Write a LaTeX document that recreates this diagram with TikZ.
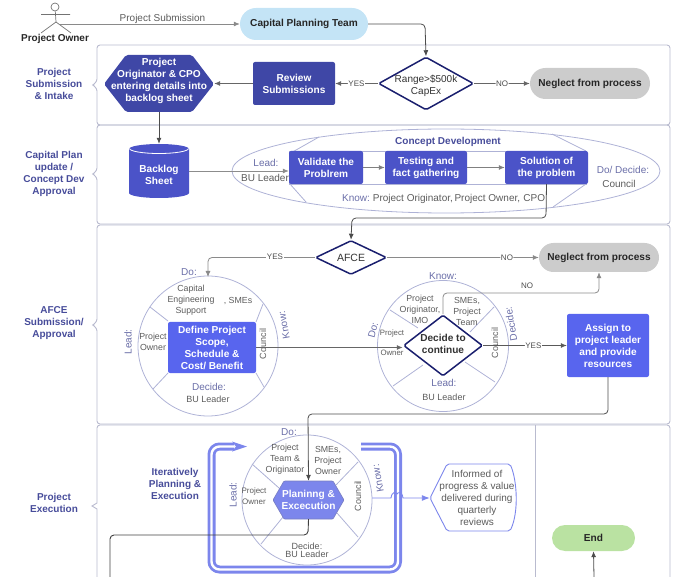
\documentclass[tikz,border=0pt]{standalone}
\usepackage{fontspec}
\setmainfont{Liberation Sans}
\usetikzlibrary{arrows.meta,shapes.geometric,shapes.misc}
\definecolor{lanegray}{HTML}{B9BBCF}
\definecolor{darkbox}{HTML}{3F47A6}
\definecolor{midbox}{HTML}{4B53C8}
\definecolor{lightbox}{HTML}{5865EE}
\definecolor{peri}{HTML}{7C86EC}
\definecolor{navy}{HTML}{1A1F6E}
\definecolor{heading}{HTML}{474C9A}
\definecolor{rolecol}{HTML}{6A6EA8}
\definecolor{textgray}{HTML}{5C5C5C}
\definecolor{linegray}{HTML}{8A8A8A}
\definecolor{wheelcol}{HTML}{AEB2D6}
\definecolor{teamblue}{HTML}{C4E4F6}
\definecolor{endgreen}{HTML}{BAE2A2}
\begin{document}
\begin{tikzpicture}[x=1pt,y=-1pt]

	\tikzset{lane/.style={draw=lanegray, line width=.9pt, rounded corners=3pt}}
	\tikzset{txt/.style={font=\fontsize{10}{12}\selectfont, align=center, text=textgray, inner sep=0pt}}
	\tikzset{small/.style={txt, font=\fontsize{8.8}{11}\selectfont}}
	\tikzset{tiny/.style={txt, font=\fontsize{8}{10.5}\selectfont}}
	\tikzset{who/.style={txt, font=\fontsize{9}{11}\selectfont}}
	\tikzset{role/.style={txt, text=rolecol}}
	\tikzset{lanelabel/.style={font=\fontsize{10}{12}\bfseries\selectfont, align=center, text=heading, inner sep=0pt}}
	\tikzset{bluebox/.style={draw=none, rounded corners=2pt, align=center, text=white, inner sep=0pt, font=\fontsize{10.1}{12}\bfseries\selectfont}}
	\tikzset{pill/.style={rounded rectangle, draw=none, align=center, text=black!85, inner sep=0pt, font=\fontsize{10.1}{12}\bfseries\selectfont}}
	\tikzset{decision/.style={diamond, draw=navy, line width=1.5pt, rounded corners=1.5pt, fill=white, inner sep=0pt}}
	\tikzset{wheel/.style={draw=wheelcol, line width=.8pt}}
	\tikzset{flow/.style={draw=black!70, line width=.8pt, rounded corners=4pt, -{Latex[length=6pt,width=5pt]}}}
	\tikzset{thin flow/.style={draw=linegray, line width=.8pt, rounded corners=4pt, -{Latex[length=6pt,width=5pt]}}}
	\tikzset{answer/.style={font=\fontsize{8}{10}\selectfont, fill=white, inner sep=.5pt, text=black!70}}
	\useasboundingbox (0,0) rectangle (680,577);
% Lanes
	\draw[lane] (97,45) -- (670,45) -- (670,125) -- (97,125) -- (97,88) -- (92,85) -- (97,82) -- cycle;
	\draw[lane] (97,125) -- (670,125) -- (670,224) -- (97,224) -- (97,177) -- (92,174) -- (97,171) -- cycle;
	\draw[lane] (97,225) -- (670,225) -- (670,424) -- (97,424) -- (97,328) -- (92,325) -- (97,322) -- cycle;
	\draw[lane, rounded corners=0pt] (97,580) -- (97,509) -- (92,506) -- (97,503) [rounded corners=3pt] -- (97,425) -- (670,425) [rounded corners=0pt] -- (670,580);
	\draw[lanegray, line width=.9pt] (535,425) -- (535,577);
	\node[lanelabel] (lane1) at (54,84) {Project\\Submission\\\& Intake};
	\node[lanelabel] (lane2) at (54,174) {Capital Plan\\update /\\Concept Dev\\Approval};
	\node[lanelabel] (lane3) at (54,323) {AFCE\\Submission/\\Approval};
	\node[lanelabel] (lane4) at (54,503) {Project\\Execution};
% Owner
	\node[draw=black!55, circle, inner sep=0pt, minimum size=8pt, line width=.7pt] (head) at (55,7) {};
	\coordinate (waist) at (56,22);
	\draw[black!55, line width=.7pt] (head) -- (waist) (41,14.5) -- (70,14.5) (41,33) -- (waist) -- (71,33);
	\node[txt, text=black!85, font=\fontsize{10}{12}\bfseries\selectfont] (owner) at (55,38.5) {Project Owner};
	\coordinate (ownerout) at (60,24);
	\node[pill, fill=teamblue, minimum width=128pt, minimum height=32pt] (team) at (304,24) {Capital Planning Team};
% Intake
	\node[decision, aspect=1.77, minimum width=95pt, minimum height=53pt] (range) at (426,83.5) {};
	\node[txt, text=black!80] (rangetxt) at (426,85.5) {Range>\$500k\\CapEx};
	\node[pill, fill=black!20, minimum width=120pt, minimum height=31pt] (neglect1) at (590,83.5) {Neglect from process};
	\node[bluebox, fill=darkbox, minimum width=82pt, minimum height=43pt] (review) at (294,83.5) {Review\\Submissions};
	\fill[darkbox, rounded corners=2pt] (104,84) -- (126,55) -- (192,55) -- (214,84) -- (192,112) -- (126,112) -- cycle;
	\node[bluebox, minimum width=110pt, minimum height=62pt] (entering) at (159,81) {Project\\Originator \& CPO\\entering details into\\backlog sheet};
% Concept development
	\draw[wheel] (446,171) ellipse [x radius=214, y radius=42];
	\draw[wheel] (319,137) -- (289,154) (290,184) -- (306,202) (552,134) -- (586,151) (586,184) -- (553,207);
	\draw[wheel] (289,151) rectangle (586,184);
	\fill[midbox] (129,149) -- (129,193) arc[start angle=180, end angle=0, x radius=30, y radius=5] -- (189,149) arc[start angle=0, end angle=-180, x radius=30, y radius=5] -- cycle;
	\draw[white, line width=.8pt] (129.5,148.5) arc[start angle=180, end angle=0, x radius=29.5, y radius=5];
	\node[bluebox, minimum width=60pt, minimum height=62pt] (backlog) at (159,175) {Backlog\\Sheet};
	\node[bluebox, fill=midbox, minimum width=74pt, minimum height=33pt] (validate) at (326,167.5) {Validate the\\Problrem};
	\node[bluebox, fill=midbox, minimum width=82pt, minimum height=33pt] (testing) at (426,167.5) {Testing and\\fact gathering};
	\node[bluebox, fill=midbox, minimum width=83pt, minimum height=33pt] (solution) at (546.5,167.5) {Solution of\\the problem};
	\node[lanelabel] (concept) at (448,142) {Concept Development};
	\node[role] (lead2) at (266,163) {Lead:};
	\node[txt, fill=white] (who2) at (265,178) {BU Leader};
	\node[role] (know2) at (356,198) {Know:};
	\node[txt] (knowwho) at (459,198.5) {Project Originator,\,Project Owner,\,\,CPO};
	\node[role] (dodecide) at (623,170) {Do/ Decide:};
	\node[txt] (council2) at (619,184) {Council};
% AFCE
	\node[decision, aspect=2.1, minimum width=71pt, minimum height=34pt, font=\fontsize{10.5}{12}\selectfont, text=black!80] (afce) at (351,257.5) {AFCE};
	\node[pill, fill=black!20, minimum width=120pt, minimum height=29pt] (neglect2) at (599,257.5) {Neglect from process};
% Define wheel
	\draw[wheel] (208,346) circle (70);
	\draw[wheel] (150,307) -- (168,321) (263,304) -- (256,322) (168,373) -- (153,389) (256,373) -- (264,387);
	\node[bluebox, fill=lightbox, minimum width=88pt, minimum height=51pt] (define) at (212,347.5) {Define Project\\Scope,\\Schedule \&\\Cost/ Benefit};
	\node[role] (do1) at (189,272.5) {Do:};
	\node[small] (capital) at (191,300.5) {Capital\\Engineering\\Support};
	\node[small] (smes1) at (238,300.5) {, SMEs};
	\node[role, rotate=90] (lead1) at (128,342) {Lead:};
	\node[small] (owner1) at (153,342) {Project\\Owner};
	\node[who, rotate=90] (council1) at (263,344) {Council};
	\node[role, rotate=100] (know1) at (284,325) {Know:};
	\node[role] (decide1) at (209,387) {Decide:};
	\node[who] (who1) at (208,399.5) {BU Leader};
% Continue wheel
	\draw[wheel] (443,346) circle (65.5);
	\draw[wheel] (390,310) -- (418,328) (494,307) -- (470,332) (495,382) -- (465,362) (393,386) -- (423,365);
	\node[decision, aspect=1.3, minimum width=79pt, minimum height=61pt] (continue) at (443,345.5) {};
	\node[txt, text=black!80, font=\fontsize{10.1}{12}\bfseries\selectfont] (continuetxt) at (443,343.5) {Decide to\\continue};
	\node[role] (know3) at (443,276) {Know:};
	\node[small] (origin) at (420,309) {Project\\Originator,\\IMO};
	\node[small] (smes3) at (467,311) {SMEs,\\Project\\Team};
	\node[role, rotate=75] (do3) at (373,330) {Do:};
	\node[txt, font=\fontsize{7.8}{10}\selectfont] (proj3) at (392,333.5) {Project};
	\node[txt, font=\fontsize{7.8}{10}\selectfont] (own3) at (392,352.5) {Owner};
	\node[who, rotate=90] (council3) at (495,343) {Council};
	\node[role, rotate=100] (decide3) at (511,324) {Decide:};
	\node[role] (lead3) at (444,383) {Lead:};
	\node[who] (who3) at (444,397) {BU Leader};
	\node[bluebox, fill=lightbox, minimum width=82pt, minimum height=63pt] (assign) at (608,345.5) {Assign to\\project leader\\and provide\\resources};
% Execution wheel
	\draw[wheel] (307,500) circle (65);
	\draw[wheel] (252,464) -- (279,488) (358,462) -- (336,485) (358,537) -- (337,513) (261,544) -- (283,517);
	\fill[peri] (273,500) -- (284,481) -- (333,481) -- (344,500) -- (333,519) -- (284,519) -- cycle;
	\draw[darkbox!70, line width=.6pt, rounded corners=1pt] (273,500) -- (284,481) -- (333,481) -- (344,500) -- (333,519) -- (284,519) -- cycle;
	\node[bluebox, minimum width=71pt, minimum height=38pt] (plan) at (308.5,500) {Planinng \&\\Excecution};
	\node[role] (do4) at (289,432.5) {Do:};
	\node[small] (team4) at (285,459.5) {Project\\Team \&\\Originator};
	\node[small] (smes4) at (328,460.5) {SMEs,\\Project\\Owner};
	\node[role, rotate=90] (lead4) at (233,495) {Lead:};
	\node[tiny] (owner4) at (254,496) {Project\\Owner};
	\node[who, rotate=90] (council4) at (358,496) {Council};
	\node[role, rotate=100] (know4) at (378,478.5) {Know:};
	\node[who] (decide4) at (307,546.5) {Decide:};
	\node[who] (who4) at (307,554) {BU Leader};
	\node[lanelabel] (iter) at (175,484) {Iteratively\\Planning \&\\Execution};
	\coordinate (loopstart) at (361,446.5);
	\coordinate (looptip) at (247,446.5);
	\draw[peri, line width=2.8pt, double=white, double distance=2.4pt, line join=round, rounded corners=8pt] (loopstart) -- (398,446.5) -- (398,569.5) -- (211.5,569.5) -- (211.5,446.5) -- (234,446.5);
	\fill[peri] (looptip) -- (232,441.5) -- (236,446.5) -- (232,451.5) -- cycle;
	\draw[peri, line width=.9pt, fill=white, rounded corners=2pt] (430,498) -- (447,464) -- (510,464) .. controls (517,480) and (519,512) .. (510,531) -- (447,531) -- cycle;
	\node[txt, minimum width=94pt, minimum height=67pt] (informed) at (477,498) {Informed of\\progress \& value\\delivered during\\quarterly\\reviews};
	\coordinate (wheelout) at (372,498);
	\draw[peri, line width=.9pt, -{Latex[length=8pt,width=6pt]}] (wheelout) -- (391,498) .. controls (392,491) and (396,492) .. (397,494) .. controls (398,492) and (402,491) .. (403,498) -- (informed.west);
	\node[pill, fill=endgreen, minimum width=83pt, minimum height=26pt] (finish) at (593.5,538) {End};
% Edges
	\coordinate (exitleft) at (110,577);
	\coordinate (endfrom) at (594,577);
	\draw[thin flow] (ownerout) -- (team.west) node[pos=.57, above=0pt, txt] (submission) {Project Submission};
	\draw[flow] (team.east) -- (425,24) -- (range.north);
	\draw[thin flow, draw=black!60] (range.west) -- (review.east) node[midway, answer] (yes1) {YES};
	\draw[thin flow, draw=black!60] (range.east) -- (neglect1.west) node[midway, answer] (no1) {NO};
	\draw[thin flow, draw=black!60] (review.west) -- (review.west -| entering.east);
	\draw[flow] (entering.south) -- (backlog.north);
	\draw[thin flow, draw=black!45] ([yshift=4pt]backlog.east) -- ([yshift=-3.5pt]validate.west);
	\draw[thin flow, draw=black!50] (validate.east) -- (testing.west);
	\draw[thin flow, draw=black!50] (testing.east) -- (solution.west);
	\draw[flow] (solution.south) -- (546,218) -- (352,218) -- (afce.north);
	\draw[thin flow] (afce.east) -- (neglect2.west) node[pos=.79, answer] (no2) {NO};
	\draw[thin flow] (afce.west) -- (208,257.5) -- (208,277);
	\node[answer] (yes2) at (275,257) {YES};
	\draw[thin flow, draw=black!60] (define.east) -- (define.east -| continue.west);
	\draw[thin flow] (continue.north) -- (443,293) -- (599,293) -- (neglect2.south);
	\node[answer, fill=none] (no3) at (527,285.5) {NO};
	\draw[thin flow, draw=black!65] (continue.east) -- (assign.west) node[answer, pos=.6] (yes3) {YES};
	\draw[flow] (assign.south) -- (608,414) -- (308,414) -- (plan.north);
	\draw[draw=black!75, line width=.9pt, rounded corners=4pt] (plan.south) -- (308,535) -- (110,535) -- (exitleft);
	\draw[flow] (endfrom) -- (finish.south);

\end{tikzpicture}
\end{document}
